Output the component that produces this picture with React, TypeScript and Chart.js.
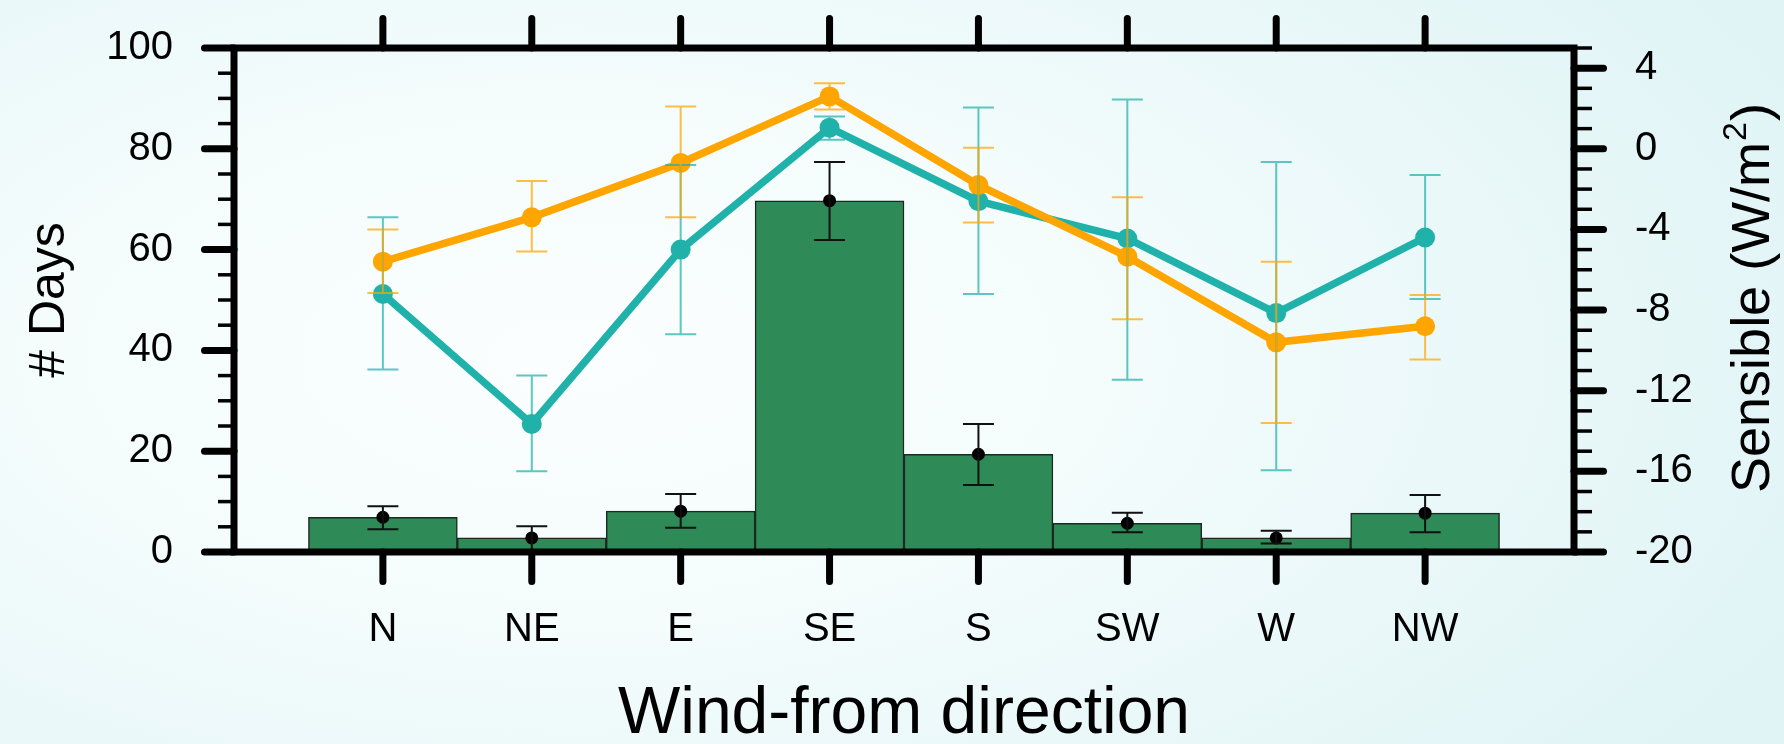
import { useEffect, useRef } from 'react';
import { Chart, registerables } from 'chart.js';

Chart.register(...registerables);

const FONT = '"Liberation Sans", Arial, Helvetica, sans-serif';

const categories = ['N', 'NE', 'E', 'SE', 'S', 'SW', 'W', 'NW'];

// # Days (left axis): bar height, error bar low/high
const days = [6.9, 2.8, 8.1, 69.7, 19.4, 5.7, 2.8, 7.7];
const daysLow = [4.5, 0.2, 4.8, 61.9, 13.3, 3.9, 1.7, 3.9];
const daysHigh = [9.1, 5.1, 11.5, 77.4, 25.4, 7.8, 4.2, 11.3];

// Sensible heat flux (right axis, W/m2)
const orange = [-5.6, -3.4, -0.7, 2.6, -1.8, -5.35, -9.6, -8.8];
const orangeLow = [-7.15, -5.1, -3.4, 1.95, -3.65, -8.45, -13.6, -10.45];
const orangeHigh = [-4.0, -1.6, 2.1, 3.25, 0.05, -2.4, -5.6, -7.25];

const teal = [-7.2, -13.65, -5.0, 1.05, -2.6, -4.45, -8.15, -4.4];
const tealLow = [-10.95, -16.0, -9.2, 0.45, -7.2, -11.45, -15.95, -7.45];
const tealHigh = [-3.4, -11.25, -0.8, 1.6, 2.05, 2.45, -0.65, -1.3];

const leftRange = [0, 100];
const leftMajorStep = 20;
const leftMinorStep = 5;
const rightRange = [-20, 5];
const rightMajorStep = 4;
const rightMinorStep = 1;

const xTitle = 'Wind-from direction';
const yTitle = '# Days';
const y2TitleMain = 'Sensible (W/m';
const y2TitleSup = '2';
const y2TitleEnd = ')';

const TEAL = '#20B2AA';
const ORANGE = '#FFA500';
const BAR = '#2E8B57';

const AREA_TOP = 48;

const decorPlugin = {
  id: 'decor',
  afterDatasetsDraw(chart: any) {
    const ctx = chart.ctx;
    const xs = chart.scales.x;
    const ys = chart.scales.y;
    const y2 = chart.scales.y2;
    const cap = 15.5;
    const err = (series: number[], lo: number[], hi: number[], scale: any, color: string, width: number) => {
      ctx.save();
      ctx.strokeStyle = color;
      ctx.lineWidth = width;
      ctx.lineCap = 'butt';
      series.forEach((_, i) => {
        const x = xs.getPixelForValue(i);
        const yl = scale.getPixelForValue(lo[i]);
        const yh = scale.getPixelForValue(hi[i]);
        ctx.beginPath();
        ctx.moveTo(x, yl);
        ctx.lineTo(x, yh);
        ctx.moveTo(x - cap, yl);
        ctx.lineTo(x + cap, yl);
        ctx.moveTo(x - cap, yh);
        ctx.lineTo(x + cap, yh);
        ctx.stroke();
      });
      ctx.restore();
    };
    err(days, daysLow, daysHigh, ys, '#111', 2);
    err(teal, tealLow, tealHigh, y2, 'rgba(32,178,170,0.72)', 2);
    err(orange, orangeLow, orangeHigh, y2, 'rgba(255,165,0,0.72)', 2);
  },
  afterDraw(chart: any) {
    const ctx = chart.ctx;
    const { left, right, top, bottom } = chart.chartArea;
    const xs = chart.scales.x;
    const ys = chart.scales.y;
    const y2 = chart.scales.y2;
    ctx.save();
    ctx.strokeStyle = '#000';
    const line = (x1: number, y1: number, x2: number, y2p: number, w: number, capStyle: string) => {
      ctx.lineWidth = w;
      ctx.lineCap = capStyle;
      ctx.beginPath();
      ctx.moveTo(x1, y1);
      ctx.lineTo(x2, y2p);
      ctx.stroke();
    };
    const MAJ = 33;
    // left ticks
    for (let v = leftRange[0]; v <= leftRange[1] + 1e-9; v += leftMinorStep) {
      const y = ys.getPixelForValue(v);
      if (Math.abs(v % leftMajorStep) < 1e-9) line(left, y, left - MAJ + 3.5, y, 7, 'round');
      else line(left, y, left - 16, y, 3.5, 'butt');
    }
    // right ticks
    for (let v = rightRange[0]; v <= rightRange[1] + 1e-9; v += rightMinorStep) {
      const y = y2.getPixelForValue(v);
      if (Math.abs((v - rightRange[0]) % rightMajorStep) < 1e-9) line(right, y, right + MAJ - 3.5, y, 7, 'round');
      else line(right, y, right + 18, y, 3.5, 'butt');
    }
    // top & bottom ticks at categories
    categories.forEach((_, i) => {
      const x = xs.getPixelForValue(i);
      line(x, top, x, top - MAJ + 3.5, 7, 'round');
      line(x, bottom, x, bottom + MAJ - 3.5, 7, 'round');
    });
    // frame
    ctx.lineWidth = 7;
    ctx.lineJoin = 'miter';
    ctx.strokeRect(left, top, right - left, bottom - top);

    // right axis title, reading bottom to top
    const size = 54;
    const supSize = 34;
    ctx.fillStyle = '#000';
    ctx.translate(1754, (top + bottom) / 2 - 2);
    ctx.rotate(-Math.PI / 2);
    ctx.textBaseline = 'middle';
    ctx.textAlign = 'left';
    ctx.font = `${size}px ${FONT}`;
    const w1 = ctx.measureText(y2TitleMain).width;
    const w3 = ctx.measureText(y2TitleEnd).width;
    ctx.font = `${supSize}px ${FONT}`;
    const w2 = ctx.measureText(y2TitleSup).width;
    const total = w1 + w2 + w3 + 2;
    let cx = -total / 2;
    ctx.font = `${size}px ${FONT}`;
    ctx.fillText(y2TitleMain, cx, 0);
    cx += w1 + 1;
    ctx.font = `${supSize}px ${FONT}`;
    ctx.fillText(y2TitleSup, cx, -17);
    cx += w2 + 1;
    ctx.font = `${size}px ${FONT}`;
    ctx.fillText(y2TitleEnd, cx, 0);
    ctx.restore();
  },
};

export default function App() {
  const ref = useRef<HTMLCanvasElement | null>(null);

  useEffect(() => {
    if (!ref.current) return;
    const chart = new Chart(ref.current, {
      type: 'bar',
      data: {
        datasets: [
          {
            type: 'line',
            label: 'orange',
            data: orange.map((v, i) => ({ x: i, y: v })),
            yAxisID: 'y2',
            xAxisID: 'x',
            borderColor: ORANGE,
            backgroundColor: ORANGE,
            borderWidth: 7.5,
            pointRadius: 10,
            pointBorderWidth: 0,
            pointBackgroundColor: ORANGE,
            tension: 0,
            order: 1,
          } as any,
          {
            type: 'line',
            label: 'teal',
            data: teal.map((v, i) => ({ x: i, y: v })),
            yAxisID: 'y2',
            xAxisID: 'x',
            borderColor: TEAL,
            backgroundColor: TEAL,
            borderWidth: 7.5,
            pointRadius: 10,
            pointBorderWidth: 0,
            pointBackgroundColor: TEAL,
            tension: 0,
            order: 2,
          } as any,
          {
            type: 'line',
            label: 'mean',
            data: days.map((v, i) => ({ x: i, y: v })),
            yAxisID: 'y',
            xAxisID: 'x',
            showLine: false,
            pointRadius: 6.5,
            pointBorderWidth: 0,
            pointBackgroundColor: '#000',
            order: 3,
          } as any,
          {
            type: 'bar',
            label: 'days',
            data: days.map((v, i) => ({ x: i, y: v })),
            yAxisID: 'y',
            xAxisID: 'x',
            backgroundColor: BAR,
            borderColor: '#1b2a20',
            borderWidth: 1.5,
            barPercentage: 1,
            categoryPercentage: 1,
            order: 4,
          } as any,
        ],
      },
      options: {
        animation: false,
        responsive: false,
        devicePixelRatio: 1,
        layout: { padding: { top: AREA_TOP, left: 0, right: 0, bottom: 0 } },
        plugins: { legend: { display: false }, tooltip: { enabled: false } },
        scales: {
          x: {
            type: 'linear',
            position: 'bottom',
            min: -1,
            max: 8,
            offset: false,
            grid: { display: false, drawTicks: false },
            border: { display: false },
            ticks: {
              stepSize: 1,
              autoSkip: false,
              maxRotation: 0,
              padding: 54,
              color: '#000',
              font: { family: FONT, size: 40, lineHeight: 1.2 },
              callback: (v: any) => categories[Math.round(Number(v))] ?? '',
            },
            title: {
              display: true,
              text: xTitle,
              color: '#000',
              font: { family: FONT, size: 66, lineHeight: 0.9 },
              padding: { top: 0, bottom: 0 },
            },
            afterFit: (s: any) => {
              s.height = 192;
              s.paddingLeft = 0;
              s.paddingRight = 0;
            },
          },
          y: {
            type: 'linear',
            position: 'left',
            min: leftRange[0],
            max: leftRange[1],
            grid: { display: false, drawTicks: false },
            border: { display: false },
            ticks: {
              stepSize: leftMajorStep,
              padding: 61,
              color: '#000',
              font: { family: FONT, size: 40, lineHeight: 1.2 },
            },
            title: {
              display: true,
              text: yTitle,
              color: '#000',
              font: { family: FONT, size: 50, lineHeight: 1.2 },
              padding: { top: 20, bottom: 0 },
            },
            afterFit: (s: any) => {
              s.width = 234;
              s.paddingTop = 0;
              s.paddingBottom = 0;
            },
          },
          y2: {
            type: 'linear',
            position: 'right',
            min: rightRange[0],
            max: rightRange[1],
            grid: { display: false, drawTicks: false, drawOnChartArea: false },
            border: { display: false },
            ticks: {
              stepSize: rightMajorStep,
              includeBounds: false,
              padding: 61,
              color: '#000',
              font: { family: FONT, size: 40, lineHeight: 1.2 },
            },
            afterFit: (s: any) => {
              s.width = 210;
              s.paddingTop = 0;
              s.paddingBottom = 0;
            },
          },
        },
      } as any,
      plugins: [decorPlugin as any],
    });
    return () => chart.destroy();
  }, []);

  return (
    <div
      style={{
        position: 'fixed',
        left: 0,
        top: 0,
        width: 1784,
        height: 744,
        background:
          'radial-gradient(ellipse 75% 90% at 32% 48%, #fbfefe 0%, #f4fcfc 40%, #e8f7f8 75%, #e0f4f6 100%)',
      }}
    >
      <canvas ref={ref} width={1784} height={744} style={{ display: 'block', width: 1784, height: 744 }} />
    </div>
  );
}
